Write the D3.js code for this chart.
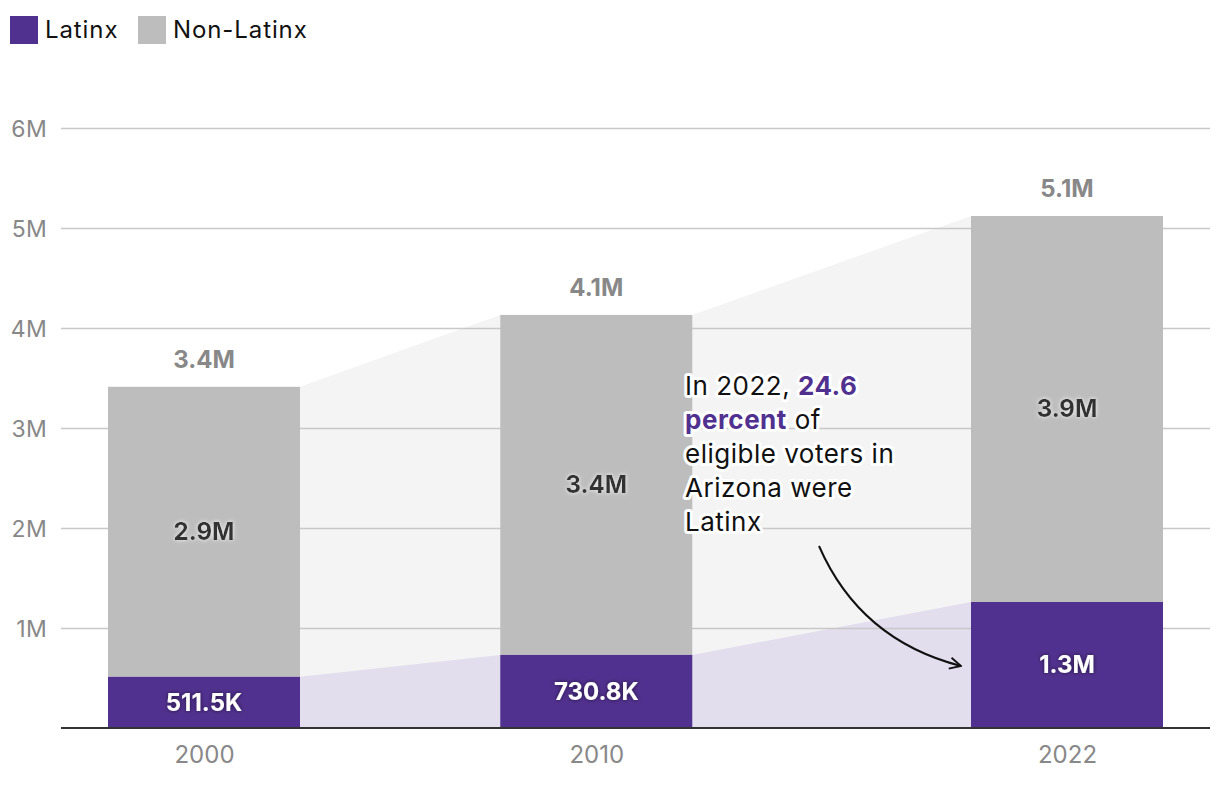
<!DOCTYPE html>
<html>
<head>
<meta charset="utf-8">
<script src="https://cdn.jsdelivr.net/npm/d3@7"></script>
<style>
  html, body { margin: 0; padding: 0; background: #fff; }
  svg { display: block; font-family: Inter, "Open Sans", sans-serif; }
</style>
</head>
<body>
<svg id="chart" width="1220" height="786"></svg>
<script>
const years = [2000, 2010, 2022];
const latinx = [511500, 730800, 1260000];
const nonLatinx = [2900000, 3400000, 3860000];
const latinxLabels = ["511.5K", "730.8K", "1.3M"];
const nonLatinxLabels = ["2.9M", "3.4M", "3.9M"];
const totalLabels = ["3.4M", "4.1M", "5.1M"];
const yTicks = [1e6, 2e6, 3e6, 4e6, 5e6, 6e6];
const yTickLabels = ["1M", "2M", "3M", "4M", "5M", "6M"];
const seriesNames = ["Latinx", "Non-Latinx"];

const PURPLE = "#51318f", GREY = "#bdbdbd";
const svg = d3.select("#chart");

const x = d3.scaleLinear().domain([2000, 2022]).range([204, 1067]);
const y = d3.scaleLinear().domain([0, 6e6]).range([728, 128]);
const bw = 192;

const data = years.map((yr, i) => ({
  year: yr, lat: latinx[i], non: nonLatinx[i], tot: latinx[i] + nonLatinx[i], i
}));

// areas
const pts = [];
data.forEach(d => { pts.push({x: x(d.year) - bw / 2, d}); pts.push({x: x(d.year) + bw / 2, d}); });
svg.append("path").datum(pts)
  .attr("d", d3.area().x(p => p.x).y0(y(0)).y1(p => y(p.d.tot)))
  .attr("fill", "#f4f4f4");
svg.append("path").datum(pts)
  .attr("d", d3.area().x(p => p.x).y0(y(0)).y1(p => y(p.d.lat)))
  .attr("fill", "#e2deee");

// gridlines + y axis
const yAxis = d3.axisLeft(y).tickValues(yTicks).tickFormat((d, i) => yTickLabels[i])
  .tickSize(-(1210 - 61)).tickPadding(14);
const gy = svg.append("g").attr("transform", "translate(61,0)").call(yAxis);
gy.select(".domain").remove();
gy.selectAll(".tick line").attr("stroke", "#c8c8c8").attr("stroke-width", 1.5);
gy.selectAll(".tick text").attr("fill", "#888").attr("font-size", 23)
  .attr("font-family", "Inter, sans-serif").attr("dy", "0.35em").attr("letter-spacing", 0.3);

// bars
const bars = svg.append("g");
bars.selectAll(".non").data(data).join("rect")
  .attr("x", d => x(d.year) - bw / 2).attr("width", bw)
  .attr("y", d => y(d.tot)).attr("height", d => y(d.lat) - y(d.tot))
  .attr("fill", GREY);
bars.selectAll(".lat").data(data).join("rect")
  .attr("x", d => x(d.year) - bw / 2).attr("width", bw)
  .attr("y", d => y(d.lat)).attr("height", d => y(0) - y(d.lat))
  .attr("fill", PURPLE);

// baseline
svg.append("line").attr("x1", 61).attr("x2", 1210).attr("y1", y(0)).attr("y2", y(0))
  .attr("stroke", "#333").attr("stroke-width", 2);

// x axis labels
const xAxis = d3.axisBottom(x).tickValues(years).tickFormat(d3.format("d")).tickSize(0).tickPadding(18);
const gx = svg.append("g").attr("transform", `translate(0,${y(0)})`).call(xAxis);
gx.select(".domain").remove();
gx.selectAll(".tick text").attr("fill", "#888").attr("font-size", 24).attr("font-family", "Inter, sans-serif");

// defs for glow
const defs = svg.append("defs");
const fDark = defs.append("filter").attr("id", "glowDark").attr("x", "-20%").attr("y", "-40%").attr("width", "140%").attr("height", "180%");
fDark.append("feDropShadow").attr("dx", 0).attr("dy", 0).attr("stdDeviation", 2).attr("flood-color", "#000").attr("flood-opacity", 0.6);
const fLight = defs.append("filter").attr("id", "glowLight").attr("x", "-20%").attr("y", "-40%").attr("width", "140%").attr("height", "180%");
fLight.append("feDropShadow").attr("dx", 0).attr("dy", 0).attr("stdDeviation", 2).attr("flood-color", "#fff").attr("flood-opacity", 0.9);

// labels
const lab = svg.append("g").attr("font-weight", 700).attr("font-size", 24).attr("text-anchor", "middle");
lab.selectAll(".t").data(data).join("text")
  .attr("x", d => x(d.year)).attr("y", d => y(d.tot) - 27).attr("dy", "0.35em")
  .attr("fill", "#888").text(d => totalLabels[d.i]);
lab.selectAll(".n").data(data).join("text")
  .attr("x", d => x(d.year)).attr("y", d => (y(d.tot) + y(d.lat)) / 2).attr("dy", "0.35em")
  .attr("fill", "#333").attr("filter", "url(#glowLight)").text(d => nonLatinxLabels[d.i]);
lab.selectAll(".l").data(data).join("text")
  .attr("x", d => x(d.year)).attr("y", d => (y(0) + y(d.lat)) / 2).attr("dy", "0.35em")
  .attr("fill", "#fff").attr("filter", "url(#glowDark)").text(d => latinxLabels[d.i]);

// legend
const leg = svg.append("g");
const legX = [10, 138];
seriesNames.forEach((n, i) => {
  leg.append("rect").attr("x", legX[i]).attr("y", 16).attr("width", 28).attr("height", 28)
    .attr("fill", i === 0 ? PURPLE : GREY);
  leg.append("text").attr("x", legX[i] + 35).attr("y", 30).attr("dy", "0.35em")
    .attr("font-size", 24).attr("letter-spacing", 0.9).attr("fill", "#111").text(n);
});

// annotation
const ann = svg.append("g").attr("font-size", 26).attr("letter-spacing", 0.5).attr("fill", "#111");
const lines = [
  [["In 2022, ", false], ["24.6", true]],
  [["percent", true], [" of", false]],
  [["eligible voters in", false]],
  [["Arizona were", false]],
  [["Latinx", false]]
];
[true, false].forEach(halo => {
  lines.forEach((ln, k) => {
    const t = ann.append("text").attr("x", 685).attr("y", 386 + k * 34).attr("dy", "0.35em");
    if (halo) t.attr("stroke", "#fff").attr("stroke-width", 6).attr("stroke-linejoin", "round").attr("fill", "#fff");
    ln.forEach(([s, b]) => {
      const ts = t.append("tspan").text(s);
      if (b) { ts.attr("font-weight", 700); if (!halo) ts.attr("fill", PURPLE); }
    });
  });
});

// arrow
defs.append("marker").attr("id", "arr").attr("viewBox", "0 0 10 10").attr("refX", 9).attr("refY", 5)
  .attr("markerWidth", 14).attr("markerHeight", 14).attr("markerUnits", "userSpaceOnUse").attr("orient", "auto")
  .append("path").attr("d", "M1,1 L9,5 L1,9").attr("fill", "none").attr("stroke", "#111").attr("stroke-width", 1.3);
svg.append("path").attr("d", "M819,546 Q860,640 961,666")
  .attr("fill", "none").attr("stroke", "#111").attr("stroke-width", 2).attr("marker-end", "url(#arr)");
</script>
</body>
</html>
